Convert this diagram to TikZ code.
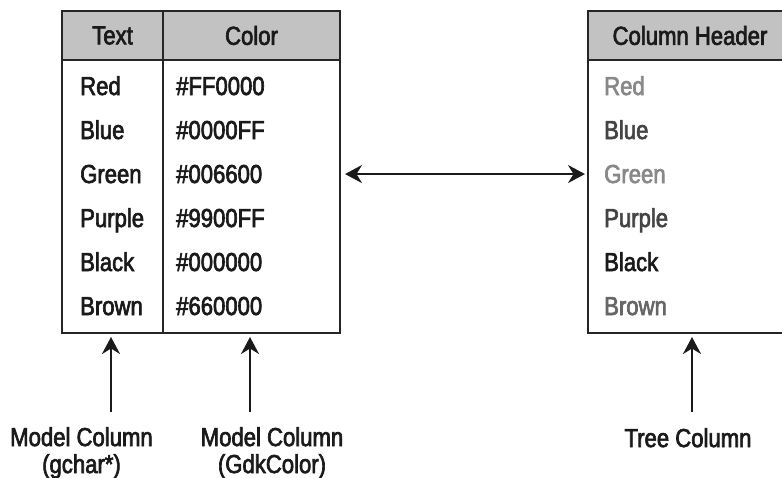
\documentclass[tikz,border=0pt]{standalone}
\usepackage{fontspec}
\setmainfont{Liberation Sans}[FakeStretch=0.85, FakeBold=2.5]
\usetikzlibrary{arrows.meta}
\definecolor{GridLine}{HTML}{262626}
\definecolor{HeadFill}{HTML}{C2C2C2}
\definecolor{InkDark}{HTML}{1A1A1A}
\definecolor{InkMid}{HTML}{444444}
\definecolor{InkSoft}{HTML}{888888}
\definecolor{InkBrown}{HTML}{666666}

\begin{document}
\begin{tikzpicture}[x=1pt, y=-1pt, font=\fontsize{26}{27}\selectfont,
  cell/.style={draw=GridLine, line width=2pt, inner sep=0pt, outer sep=0pt},
  head/.style={cell, fill=HeadFill, minimum height=49pt, text=InkDark},
  entry/.style={anchor=base west, inner sep=0pt, text=InkDark},
  caption/.style={anchor=north, align=center, inner sep=0pt, text=InkDark},
  link/.style={{Stealth[length=17pt,width=18pt]}-{Stealth[length=17pt,width=18pt]}, line width=2.2pt, draw=InkDark, shorten <=5pt, shorten >=3pt},
  up/.style={-{Stealth[length=17pt,width=18pt]}, line width=2.4pt, draw=InkDark, shorten >=4pt}]

\useasboundingbox (0,0) rectangle (782,477);
\clip (0,0) rectangle (782,477);

\node[cell, minimum width=278pt, minimum height=322pt] (model) at (201,172) {};
\node[head, minimum width=101pt] (texthd) at (112.5,35.5) {Text};
\node[head, minimum width=177pt] (colorhd) at (251.5,35.5) {Color};
\draw[GridLine, line width=2pt] (texthd.north east) -- (texthd.north east |- model.south);

\foreach \name/\hex [count=\i] in {Red/FF0000, Blue/0000FF, Green/006600, Purple/9900FF, Black/000000, Brown/660000} {
  \node[entry] (txt\i) at (80,{95+44*(\i-1)}) {\name};
  \node[entry] (hex\i) at (176,{95+44*(\i-1)}) {\#\hex};
}

\node[cell, minimum width=204pt, minimum height=322pt] (tree) at (690,172) {};
\node[head, minimum width=204pt] (treehd) at (690,35.5) {Column Header};
\foreach \name/\ink [count=\i] in {Red/InkSoft, Blue/InkMid, Green/InkSoft, Purple/InkMid, Black/InkDark, Brown/InkBrown} {
  \node[entry, text=\ink] (row\i) at (604,{95+44*(\i-1)}) {\name};
}

\draw[link] (model.east |- hex3) -- (tree.west |- hex3);

\node[caption] (gcharlbl) at (81.5,427) {Model Column\\(gchar*)};
\node[caption] (gdklbl) at (272,427) {Model Column\\(GdkColor)};
\node[caption] (treelbl) at (688,428) {Tree Column};
\coordinate (gcharfoot) at (111,412);
\coordinate (gdkfoot) at (250,412);
\coordinate (treefoot) at (692,412);
\draw[up] (gcharfoot) -- (gcharfoot |- model.south);
\draw[up] (gdkfoot) -- (gdkfoot |- model.south);
\draw[up] (treefoot) -- (treefoot |- tree.south);
\end{tikzpicture}
\end{document}
